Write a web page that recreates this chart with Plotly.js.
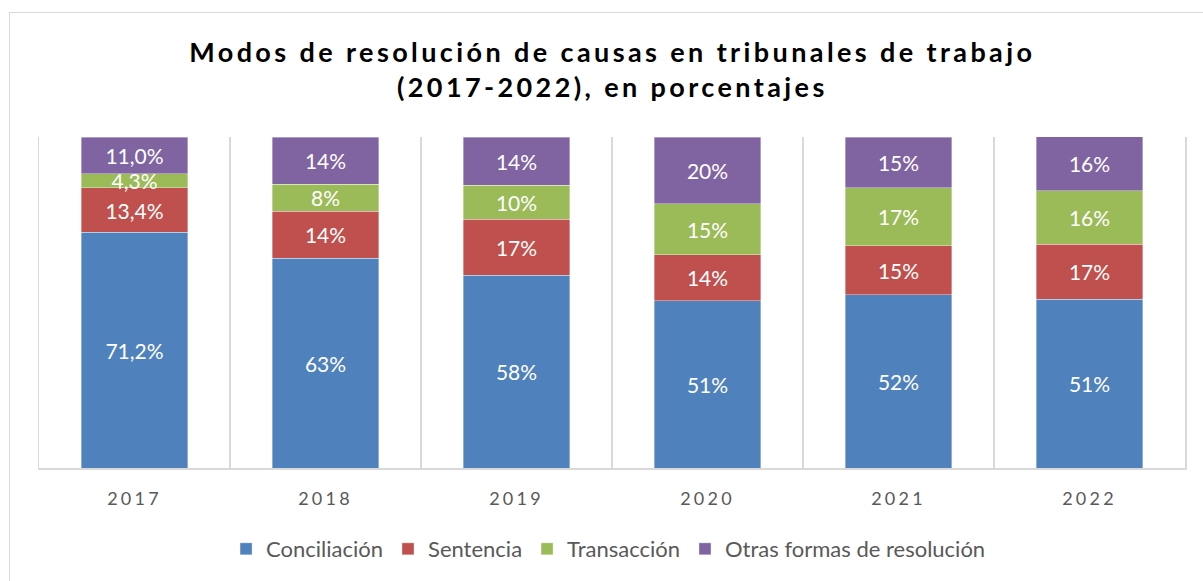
<!DOCTYPE html>
<html>
<head>
<meta charset="utf-8">
<script src="https://cdn.plot.ly/plotly-3.0.1.min.js"></script>
<style>
  html, body { margin: 0; padding: 0; background: #fff; overflow: hidden; }
  #frame { position: absolute; left: 9px; top: 12px; width: 1400px; height: 800px;
           border-left: 1.5px solid #d9d9d9; border-top: 1.5px solid #d9d9d9; pointer-events: none; z-index: 2; }
  #chart { position: absolute; left: 0; top: 0; width: 1203px; height: 581px; }
  .gtitle { letter-spacing: 3.4px; }
  .xtick text { letter-spacing: 3.2px; }
</style>
</head>
<body>
<div id="chart"></div>
<div id="frame"></div>
<script>
const years = ['2017', '2018', '2019', '2020', '2021', '2022'];
const conciliacion = [71.2, 63.3, 58.2, 50.6, 52.4, 51.0];
const sentencia    = [13.4, 14.2, 17.0, 13.8, 14.8, 16.6];
const transaccion  = [4.3, 8.3, 10.3, 15.4, 17.4, 16.2];
const otras        = [11.0, 14.2, 14.4, 20.2, 15.4, 16.3];
const seriesNames  = ['Conciliación', 'Sentencia', 'Transacción', 'Otras formas de resolución'];
const labelFormats = ['%{y:.1f}%', '%{y:.0f}%', '%{y:.0f}%', '%{y:.0f}%', '%{y:.0f}%', '%{y:.0f}%'];

const colors = ['#4F81BD', '#C0504D', '#9BBB59', '#8064A2'];
const values = [conciliacion, sentencia, transaccion, otras];

const traces = values.map((v, i) => ({
  type: 'bar',
  name: seriesNames[i],
  x: years,
  y: v,
  marker: { color: colors[i], line: { color: 'rgba(255,255,255,0.45)', width: 0.8 } },
  texttemplate: labelFormats,
  textposition: 'inside',
  insidetextanchor: 'middle',
  textangle: 0,
  constraintext: 'none',
  textfont: { family: 'Lato, "Open Sans", sans-serif', size: 21, color: '#ffffff' },
  hoverinfo: 'skip'
}));

const layout = {
  width: 1203,
  height: 581,
  barmode: 'stack',
  bargap: 0.443,
  separators: ',.',
  paper_bgcolor: '#ffffff',
  plot_bgcolor: '#ffffff',
  margin: { l: 39, r: 18, t: 137, b: 112 },
  uniformtext: { mode: 'show', minsize: 21 },
  title: {
    text: 'Modos de resolución de causas en tribunales de trabajo<br>(2017-2022), en porcentajes',
    font: { family: 'Lato, "Open Sans", sans-serif', size: 27, color: '#000000', weight: 'bold' },
    x: 0.509, xanchor: 'center',
    y: 0.893, yanchor: 'middle', yref: 'container'
  },
  xaxis: {
    type: 'category',
    showline: true, linecolor: '#d9d9d9', linewidth: 1.5,
    tickson: 'boundaries',
    showgrid: true, gridcolor: '#d9d9d9', gridwidth: 1.5,
    ticks: '',
    ticklabelstandoff: 14,
    tickfont: { family: 'Lato, "Open Sans", sans-serif', size: 18, color: '#595959' },
    fixedrange: true
  },
  yaxis: {
    range: [0, 100],
    showgrid: false, zeroline: false,
    showticklabels: false,
    showline: true, mirror: true, linecolor: '#d9d9d9', linewidth: 1.5,
    ticks: '',
    fixedrange: true
  },
  showlegend: true,
  legend: {
    orientation: 'h',
    traceorder: 'normal',
    x: 0.497, xanchor: 'center',
    y: -0.241, yanchor: 'middle',
    font: { family: 'Lato, "Open Sans", sans-serif', size: 22, color: '#595959' },
    itemclick: false, itemdoubleclick: false
  }
};

Plotly.newPlot('chart', traces, layout, { displayModeBar: false, staticPlot: true });
</script>
</body>
</html>
